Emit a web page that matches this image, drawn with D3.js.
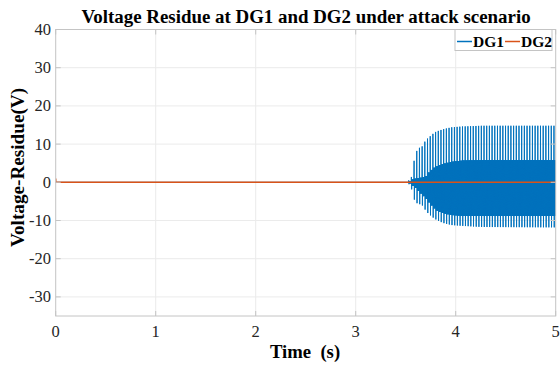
<!DOCTYPE html>
<html>
<head>
<meta charset="utf-8">
<script src="https://cdn.jsdelivr.net/npm/d3@7"></script>
<style>
  html, body { margin: 0; padding: 0; background: #fff; }
  svg { display: block; }
</style>
</head>
<body>
<svg id="chart" width="560" height="366" font-family="'Liberation Serif', 'Times New Roman', serif"></svg>
<script>
// Axis ticks
const xTicks = [0, 1, 2, 3, 4, 5];
const yTicks = [-30, -20, -10, 0, 10, 20, 30, 40];

// DG2 residue: a short offset at t = 0, then flat at zero
const dg2Time = [0, 0.002, 5];
const dg2Value = [1.0, 0, 0];

// DG1 residue: zero until the attack starts, then a fast oscillation.
// Envelope of the oscillation (V) at the listed times (s).
const dg1Onset = 3.53;
const dg1SpikePeriod = 0.0269;
const envTime   = [3.53, 3.56, 3.59, 3.62, 3.66, 3.69, 3.72, 3.76, 3.79, 3.84, 3.89, 3.96, 4.06, 4.26, 5.00];
const upperPeak = [0.5, 1.5, 6.7, 8.9, 9.2, 10.6, 11.5, 12.4, 13.1, 13.6, 14.0, 14.4, 14.6, 14.8, 14.8];
const lowerPeak = [-0.5, -2.0, -5.2, -5.6, -5.9, -7.1, -8.1, -9.0, -9.6, -10.3, -10.8, -11.2, -11.4, -11.7, -11.8];
const upperBand = [0.3, 0.8, 1.0, 1.1, 1.3, 1.6, 2.6, 3.6, 4.1, 4.6, 5.0, 5.4, 5.7, 5.8, 5.8];
const lowerBand = [-0.3, -1.0, -1.6, -2.5, -3.5, -4.3, -5.3, -6.5, -7.3, -7.9, -8.3, -8.6, -8.8, -8.8, -8.8];

const seriesNames = ["DG1", "DG2"];
const seriesColors = ["#0072BD", "#D95319"];

const svg = d3.select("#chart");
const serif = "'Liberation Serif', 'Times New Roman', serif";
const plot = { left: 55.7, right: 555.7, top: 29.5, bottom: 316 };

const x = d3.scaleLinear().domain([0, 5]).range([plot.left, plot.right]);
const y = d3.scaleLinear().domain([-35, 40]).range([plot.bottom, plot.top]);

// grid
const grid = svg.append("g").attr("stroke", "#ebebeb").attr("stroke-width", 1);
grid.selectAll("line.gx").data(xTicks.slice(1, -1)).join("line")
  .attr("class", "gx")
  .attr("x1", d => x(d)).attr("x2", d => x(d))
  .attr("y1", plot.top).attr("y2", plot.bottom);
grid.selectAll("line.gy").data(yTicks.filter(d => d !== 40)).join("line")
  .attr("class", "gy")
  .attr("x1", plot.left).attr("x2", plot.right)
  .attr("y1", d => y(d)).attr("y2", d => y(d));

// data lines, clipped to the axes box
svg.append("clipPath").attr("id", "plotClip").append("rect")
  .attr("x", plot.left).attr("y", plot.top)
  .attr("width", plot.right - plot.left).attr("height", plot.bottom - plot.top);

const envScale = arr => d3.scaleLinear().domain(envTime).range(arr).clamp(true);
const up = envScale(upperPeak), lp = envScale(lowerPeak),
      ub = envScale(upperBand), lb = envScale(lowerBand);

const dg1Points = [[0, 0], [dg1Onset, 0]];
for (let k = 0; ; k++) {
  const t0 = dg1Onset + k * dg1SpikePeriod;
  if (t0 > 5) break;
  for (let j = 0; j < 10; j++) {
    const t = t0 + j * dg1SpikePeriod / 10;
    if (t > 5) break;
    let v;
    if (j === 0) v = up(t0);
    else if (j === 1) v = lp(t0);
    else v = (j % 2 === 0) ? ub(t0) : lb(t0);
    dg1Points.push([t, v]);
  }
}
const dg2Points = dg2Time.map((t, i) => [t, dg2Value[i]]);

const line = d3.line().x(d => x(d[0])).y(d => y(d[1]));
const lines = svg.append("g").attr("clip-path", "url(#plotClip)").attr("fill", "none");
lines.append("path").attr("d", line(dg1Points))
  .attr("stroke", seriesColors[0]).attr("stroke-width", 1).attr("stroke-linejoin", "miter");
lines.append("path").attr("d", line(dg2Points))
  .attr("stroke", seriesColors[1]).attr("stroke-width", 1.5);

// axes box with inward ticks
const axisColor = "#c4c4c4";
const frame = svg.append("g").attr("stroke", axisColor).attr("stroke-width", 1).attr("fill", "none");
frame.append("rect").attr("x", plot.left).attr("y", plot.top)
  .attr("width", plot.right - plot.left).attr("height", plot.bottom - plot.top);
const tl = 5;
xTicks.forEach(d => {
  frame.append("line").attr("x1", x(d)).attr("x2", x(d)).attr("y1", plot.bottom).attr("y2", plot.bottom - tl);
  frame.append("line").attr("x1", x(d)).attr("x2", x(d)).attr("y1", plot.top).attr("y2", plot.top + tl);
});
yTicks.forEach(d => {
  frame.append("line").attr("x1", plot.left).attr("x2", plot.left + tl).attr("y1", y(d)).attr("y2", y(d));
  frame.append("line").attr("x1", plot.right).attr("x2", plot.right - tl).attr("y1", y(d)).attr("y2", y(d));
});

// tick labels
svg.append("g").selectAll("text").data(xTicks).join("text")
  .attr("font-family", serif)
  .attr("x", d => x(d)).attr("y", 337).attr("text-anchor", "middle")
  .attr("font-size", 16.5).attr("fill", "#262626").text(d => d);
svg.append("g").selectAll("text").data(yTicks).join("text")
  .attr("font-family", serif)
  .attr("x", 51).attr("y", d => y(d) + 5.5).attr("text-anchor", "end")
  .attr("font-size", 16.5).attr("fill", "#262626").text(d => d);

// titles
svg.append("text").attr("font-family", serif)
  .attr("x", 306).attr("y", 23).attr("text-anchor", "middle")
  .attr("font-size", 18.9).attr("font-weight", "bold").attr("fill", "#000")
  .text("Voltage Residue at DG1 and DG2 under attack scenario");
svg.append("text").attr("font-family", serif)
  .attr("x", 305).attr("y", 358).attr("text-anchor", "middle")
  .attr("font-size", 18.7).attr("font-weight", "bold").attr("fill", "#000")
  .attr("xml:space", "preserve").style("white-space", "pre")
  .text("Time  (s)");
svg.append("text").attr("font-family", serif)
  .attr("transform", "translate(23.5,167.5) rotate(-90)").attr("text-anchor", "middle")
  .attr("font-size", 19.2).attr("font-weight", "bold").attr("fill", "#000")
  .text("Voltage-Residue(V)");

// legend
const leg = svg.append("g");
leg.append("rect").attr("x", 455).attr("y", plot.top).attr("width", 97).attr("height", 21)
  .attr("fill", "#fff").attr("stroke", axisColor).attr("stroke-width", 1);
const legItems = [{ x0: 457 }, { x0: 505 }];
legItems.forEach((it, i) => {
  leg.append("line").attr("x1", it.x0).attr("x2", it.x0 + 15).attr("y1", 41.5).attr("y2", 41.5)
    .attr("stroke", seriesColors[i]).attr("stroke-width", 1.5);
  leg.append("text").attr("font-family", serif)
    .attr("x", it.x0 + 16).attr("y", 46.5)
    .attr("font-size", 15.5).attr("font-weight", "bold").attr("fill", "#000")
    .text(seriesNames[i]);
});
</script>
</body>
</html>
